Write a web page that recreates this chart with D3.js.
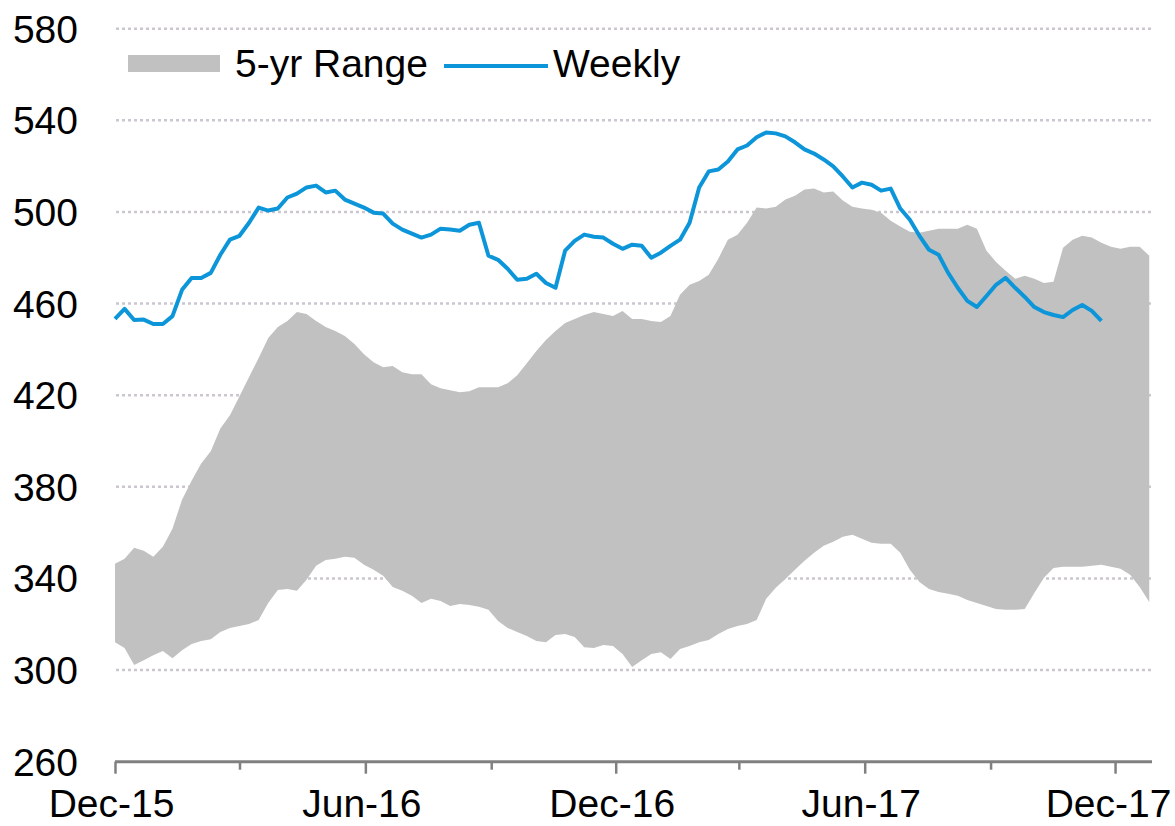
<!DOCTYPE html>
<html>
<head>
<meta charset="utf-8">
<script src="https://cdn.jsdelivr.net/npm/d3@7"></script>
<style>
  body { margin: 0; background: #fff; }
  text { font-family: "Liberation Sans", Arial, sans-serif; fill: #000; }
</style>
</head>
<body>
<script>
// weekly series starts here, one value per week
var startDate = new Date(2015, 11, 4);
var endDate = new Date(2017, 11, 31);

var weekly = [
  453.3,457.7,452.8,453,451.1,451.1,454.5,466,471.2,471.2,
  473.4,481.3,487.9,489.6,495.3,501.9,500.6,501.5,506.3,508,
  510.7,511.5,508.5,509.3,505.4,503.6,501.9,499.7,499.3,494.9,
  492.3,490.5,488.8,490.1,492.7,492.3,491.8,494.4,495.3,480.9,
  479.1,475.2,470.4,470.8,473,469,466.9,483.1,487.4,490.1,
  489.2,488.8,486.1,483.9,485.7,485.2,480,482.2,485.2,487.9,
  495.3,510.7,517.7,518.5,522,527.3,529,532.6,534.7,534.3,
  533,530.4,527.3,525.5,522.9,519.9,515.5,510.7,512.8,511.9,
  509.3,510.2,501.5,496.6,489.6,483.5,481.3,473.4,466.9,461.2,
  458.5,463.3,468.2,471.2,466.9,462.9,458.5,456.3,455,454.1,
  457.2,459.4,456.8,452.4
];

// 5 year range, top and bottom
var rangeHigh = [
  346.4,348.6,353.4,352.1,349.5,353.8,361.7,374.4,382.7,390.2,
  395.5,405.5,411.3,419.5,427.9,436.2,445,449.8,452.4,456.3,
  455.5,452.4,449.8,448,445.8,442.3,437.9,434.4,432.2,432.7,
  430,429.2,429.2,424.8,423,422.2,421.3,421.7,423.5,423.5,
  423.5,425.2,428.7,434,439.3,444.1,448,451.5,453.3,455,
  456.3,455.5,454.6,456.8,453.3,453.3,452.4,452,454.6,463.8,
  468.2,469.9,472.6,479.6,487.9,490.1,495.3,501.9,501.5,502.3,
  505.4,507.1,509.8,510.2,508.5,508.9,505,502.3,501.5,501,
  499.7,496.2,493.6,491.4,490.9,491.8,492.7,492.7,492.7,494.4,
  492.7,483.1,478.2,474.3,470.8,472.1,470.8,469,469.5,484.4,
  487.9,489.6,488.8,486.6,484.8,483.9,484.8,484.8,480.9
];
var rangeLow = [
  312.2,309.6,302.2,304.3,306.5,308.3,305.2,308.7,311.4,312.7,
  313.5,316.6,318.4,319.2,320.1,321.9,329.3,335,335.4,334.6,
  339.4,345.5,348.1,348.6,349.5,349,346,343.8,341.2,336.3,
  334.6,332.4,329.3,331.1,330.2,328,328.9,328.4,327.6,326.3,
  321.4,318.4,316.6,314.9,312.7,312.2,315.3,315.7,314.4,310,
  309.6,310.9,310.5,307,301.3,304.3,307,307.8,304.8,309.2,
  310.5,312.2,313.1,315.7,317.9,319.2,320.1,321.9,331.1,335.9,
  339.8,343.8,347.7,351.2,354.3,356,358.2,359.1,357.3,355.6,
  355.1,355.1,351.2,343.8,338.5,335.4,334.1,333.3,332.4,330.6,
  329.3,328,326.7,326.3,326.3,326.7,333.7,340.3,344.6,345.1,
  345.1,345.1,345.5,346,345.1,344.2,341.6,336.3,329.7
];

var yTicks = [260, 300, 340, 380, 420, 460, 500, 540, 580];
var legendNames = ["5-yr Range", "Weekly"];

var W = 1175, H = 826;
var colors = { band: "#c1c1c1", line: "#0c96d9", grid: "#cbc6cf", axis: "#808080" };

var svg = d3.select("body").append("svg")
    .attr("width", W)
    .attr("height", H);

var x = d3.scaleTime()
    .domain([startDate, endDate])
    .range([115, 1152]);

var y = d3.scaleLinear()
    .domain([260, 580])
    .range([761.7, 28.7]);

function weekDate(i) { return d3.timeDay.offset(startDate, 7 * i); }

var lineData = weekly.map(function(v, i) { return { date: weekDate(i), v: v }; });
var bandData = rangeHigh.map(function(v, i) { return { date: weekDate(i), hi: v, lo: rangeLow[i] }; });

// gridlines (dotted)
svg.append("g")
  .selectAll("line")
  .data(yTicks.filter(function(d) { return d > 260; }))
  .enter().append("line")
    .attr("x1", 116)
    .attr("x2", 1152)
    .attr("y1", function(d) { return y(d); })
    .attr("y2", function(d) { return y(d); })
    .attr("stroke", colors.grid)
    .attr("stroke-width", 2.5)
    .attr("stroke-dasharray", "3,3");

// y labels, no axis line
svg.append("g")
  .selectAll("text")
  .data(yTicks)
  .enter().append("text")
    .attr("x", 78)
    .attr("y", function(d) { return y(d); })
    .attr("dy", "0.36em")
    .attr("text-anchor", "end")
    .attr("font-size", "39px")
    .text(function(d) { return d; });

// 5 yr band
var area = d3.area()
    .x(function(d) { return x(d.date); })
    .y0(function(d) { return y(d.lo); })
    .y1(function(d) { return y(d.hi); });

svg.append("path")
    .datum(bandData)
    .attr("d", area)
    .attr("fill", colors.band);

// weekly line
var line = d3.line()
    .x(function(d) { return x(d.date); })
    .y(function(d) { return y(d.v); });

svg.append("path")
    .datum(lineData)
    .attr("d", line)
    .attr("fill", "none")
    .attr("stroke", colors.line)
    .attr("stroke-width", 4)
    .attr("stroke-linejoin", "round");

// x axis, ticks every 3 months, labels every 6
var tickDates = d3.range(9).map(function(i) { return d3.timeMonth.offset(startDate, 3 * i); });
var fmt = d3.timeFormat("%b-%y");

var xAxis = d3.axisBottom(x)
    .tickValues(tickDates)
    .tickSize(12)
    .tickSizeOuter(0)
    .tickFormat(function(d, i) { return i % 2 == 0 ? fmt(d) : ""; });

var gx = svg.append("g")
    .attr("transform", "translate(0," + y(260) + ")")
    .call(xAxis);

gx.select(".domain")
    .attr("stroke", colors.axis)
    .attr("stroke-width", 3)
    .attr("d", "M" + x.range()[0] + ",0H" + x.range()[1]);
gx.selectAll(".tick line")
    .attr("stroke", colors.axis)
    .attr("stroke-width", 2.5)
    .attr("y2", function(d, i) { return i % 2 == 0 ? 12 : 8; });
gx.selectAll(".tick text")
    .attr("font-family", "Liberation Sans, Arial, sans-serif")
    .attr("font-size", "39px")
    .attr("fill", "#000")
    .attr("x", function(d, i) { return i == 8 ? -7 : -4; })
    .attr("y", 28)
    .attr("dy", "0.71em");

// legend
var legend = svg.append("g");
legend.append("rect")
    .attr("x", 128).attr("y", 55)
    .attr("width", 92).attr("height", 17)
    .attr("fill", colors.band);
legend.append("text")
    .attr("x", 235).attr("y", 77)
    .attr("font-size", "39px")
    .text(legendNames[0]);
legend.append("line")
    .attr("x1", 444).attr("x2", 548)
    .attr("y1", 66).attr("y2", 66)
    .attr("stroke", colors.line)
    .attr("stroke-width", 4);
legend.append("text")
    .attr("x", 553).attr("y", 77)
    .attr("font-size", "39px")
    .text(legendNames[1]);
</script>
</body>
</html>
